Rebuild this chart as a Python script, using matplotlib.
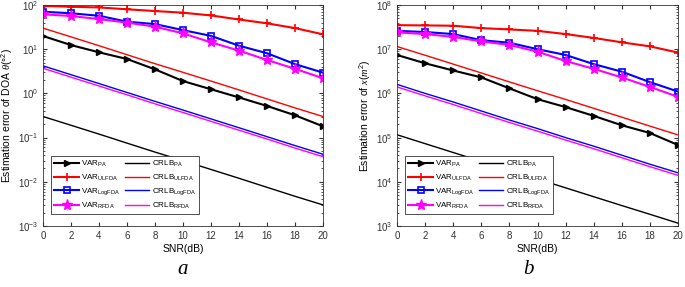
import numpy as np
import matplotlib
matplotlib.use('Agg')
import matplotlib.pyplot as plt

plt.rcParams['font.family'] = ['Liberation Sans', 'DejaVu Sans']
plt.rcParams['mathtext.fontset'] = 'custom'
plt.rcParams['mathtext.it'] = 'Liberation Serif:italic'
plt.rcParams['mathtext.rm'] = 'Liberation Sans'

snr = [0, 2, 4, 6, 8, 10, 12, 14, 16, 18, 20]

# panel a: DOA
var_pa_a = [19.9, 12.4, 8.5, 6.0, 3.5, 1.9, 1.24, 0.81, 0.52, 0.32, 0.18]
var_ul_a = [95, 91.5, 88, 80, 73, 67, 58, 47, 38.5, 30, 21.7]
var_log_a = [70.5, 65, 57, 42, 37, 27, 20, 12, 8.1, 4.6, 2.95]
var_rf_a = [61.6, 56.4, 48, 40, 32.3, 22.8, 14.3, 9.3, 5.7, 3.6, 2.2]
crlb_pa_a = [0.3, 0.19, 0.12, 0.075, 0.047, 0.03, 0.019, 0.012, 0.0075, 0.0047, 0.003]
crlb_ul_a = [30, 19, 12, 7.5, 4.7, 3.0, 1.9, 1.2, 0.75, 0.47, 0.3]
crlb_log_a = [4.2, 2.65, 1.67, 1.05, 0.66, 0.42, 0.265, 0.167, 0.105, 0.066, 0.042]
crlb_rf_a = [3.7, 2.33, 1.47, 0.93, 0.58, 0.37, 0.233, 0.147, 0.093, 0.058, 0.037]

# panel b: position x
var_pa_b = [7.4e6, 4.8e6, 3.3e6, 2.3e6, 1.3e6, 7.4e5, 4.9e5, 3.1e5, 1.9e5, 1.27e5, 6.8e4]
var_ul_b = [3.5e7, 3.45e7, 3.4e7, 3.0e7, 2.8e7, 2.6e7, 2.2e7, 1.8e7, 1.43e7, 1.16e7, 8.4e6]
var_log_b = [2.6e7, 2.45e7, 2.2e7, 1.6e7, 1.4e7, 1.0e7, 7.4e6, 4.6e6, 3.1e6, 1.8e6, 1.1e6]
var_rf_b = [2.4e7, 2.2e7, 1.9e7, 1.5e7, 1.25e7, 8.8e6, 5.4e6, 3.6e6, 2.3e6, 1.4e6, 8.4e5]
crlb_pa_b = [1.16e5, 7.3e4, 4.6e4, 2.9e4, 1.84e4, 1.16e4, 7.3e3, 4.6e3, 2.9e3, 1.84e3, 1.16e3]
crlb_ul_b = [1.15e7, 7.3e6, 4.6e6, 2.9e6, 1.82e6, 1.15e6, 7.3e5, 4.6e5, 2.9e5, 1.82e5, 1.15e5]
crlb_log_b = [1.6e6, 1.0e6, 6.4e5, 4.0e5, 2.5e5, 1.6e5, 1.0e5, 6.4e4, 4.0e4, 2.5e4, 1.6e4]
crlb_rf_b = [1.4e6, 8.8e5, 5.6e5, 3.5e5, 2.2e5, 1.4e5, 8.8e4, 5.6e4, 3.5e4, 2.2e4, 1.4e4]

ylabels = [r'Estimation error of DOA $\theta$(°$^2$)', r'Estimation error of $x$($m^2$)']
panel_names = ['a', 'b']
ylims = [(1e-3, 1e2), (1e3, 1e8)]

fig = plt.figure(figsize=(6.85, 2.87), dpi=100)
ax_a = fig.add_axes([43/685, 61/287, 280/685, 221/287])
ax_b = fig.add_axes([397/685, 61/287, 281/685, 221/287])

panels = [
    (ax_a, var_pa_a, var_ul_a, var_log_a, var_rf_a, crlb_pa_a, crlb_ul_a, crlb_log_a, crlb_rf_a),
    (ax_b, var_pa_b, var_ul_b, var_log_b, var_rf_b, crlb_pa_b, crlb_ul_b, crlb_log_b, crlb_rf_b),
]

for i, (ax, vpa, vul, vlog, vrf, cpa, cul, clog, crf) in enumerate(panels):
    ax.semilogy(snr, vpa, color='k', marker='>', ms=5, lw=1.5, label=r'VAR$_{\mathrm{PA}}$')
    ax.semilogy(snr, cpa, color='k', lw=1.0, label=r'CRLB$_{\mathrm{PA}}$')
    ax.semilogy(snr, vul, color='r', marker='+', ms=6, mew=1.2, lw=1.5, label=r'VAR$_{\mathrm{ULFDA}}$')
    ax.semilogy(snr, cul, color='r', lw=1.0, label=r'CRLB$_{\mathrm{ULFDA}}$')
    ax.semilogy(snr, vlog, color='b', marker='s', ms=4, mfc='none', mew=1.2, lw=1.5, label=r'VAR$_{\mathrm{LogFDA}}$')
    ax.semilogy(snr, clog, color='b', lw=1.0, label=r'CRLB$_{\mathrm{LogFDA}}$')
    ax.semilogy(snr, vrf, color='magenta', marker='*', ms=8, lw=1.5, label=r'VAR$_{\mathrm{RFDA}}$')
    ax.semilogy(snr, crf, color='magenta', lw=1.0, label=r'CRLB$_{\mathrm{RFDA}}$')
    ax.set_xlim(0, 20)
    ax.set_ylim(*ylims[i])
    ax.set_xticks(snr)
    ax.tick_params(which='both', direction='in', top=True, right=True, labelsize=7, colors='#333333')
    ax.tick_params(which='major', length=3)
    ax.tick_params(which='minor', length=1.5)
    for s in ax.spines.values():
        s.set_color('#333333')
        s.set_linewidth(0.6)
    ax.set_xlabel('SNR(dB)', fontsize=7.5, labelpad=2)
    ax.set_ylabel(ylabels[i], fontsize=7.5, labelpad=2)
    handles, labels = ax.get_legend_handles_labels()
    order = [0, 2, 4, 6, 1, 3, 5, 7]
    leg = ax.legend([handles[k] for k in order], [labels[k] for k in order], ncol=2,
                    loc='lower left', bbox_to_anchor=(0.015, 0.035), fontsize=5.8,
                    fancybox=False, edgecolor='#333333', framealpha=1,
                    handlelength=3, columnspacing=0.6, labelspacing=0.45,
                    borderpad=0.4, handletextpad=0.3)
    leg.get_frame().set_linewidth(0.6)

fig.text(183/685, 1 - 270/287, panel_names[0], fontsize=15, style='italic', family='Liberation Serif', ha='center', va='center')
fig.text(528/685, 1 - 270/287, panel_names[1], fontsize=15, style='italic', family='Liberation Serif', ha='center', va='center')

fig.savefig('out.png', dpi=100)
